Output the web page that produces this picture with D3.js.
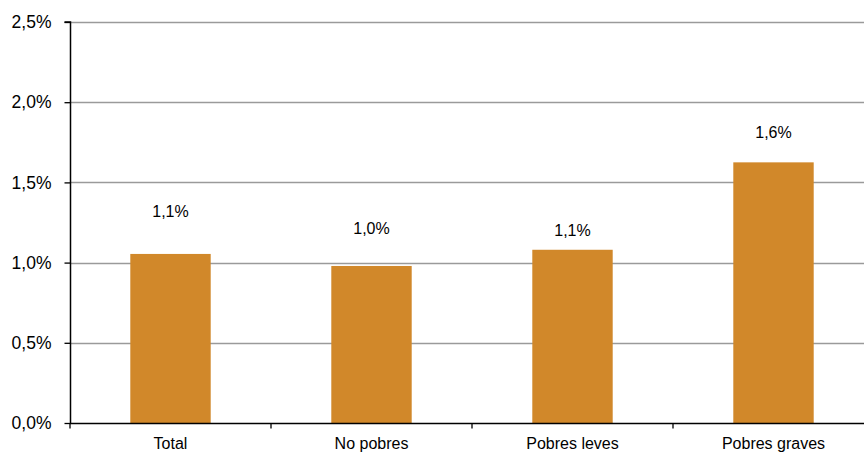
<!DOCTYPE html>
<html>
<head>
<meta charset="utf-8">
<script src="https://cdn.jsdelivr.net/npm/d3@7"></script>
<style>
  html, body { margin: 0; padding: 0; background: #fff; }
  svg { display: block; font-family: "Liberation Sans", Arial, sans-serif; }
</style>
</head>
<body>
<svg id="chart" width="864" height="453"></svg>
<script>
// Categories and values (share, in %)
const categories = ["Total", "No pobres", "Pobres leves", "Pobres graves"];
const values = [1.054, 0.979, 1.08, 1.625];
const yTicks = [0, 0.5, 1.0, 1.5, 2.0, 2.5];

const svg = d3.select("#chart");
const W = 864, H = 453;
const plotLeft = 70, plotTop = 22, plotBottom = 423;
const plotRight = 874; // last band runs past the visible area

const x = d3.scaleBand().domain(categories).range([plotLeft, plotRight])
  .paddingInner(0.6).paddingOuter(0.3);
const y = d3.scaleLinear().domain([0, 2.5]).range([plotBottom, plotTop]);

const pct = v => d3.format(".1f")(v).replace(".", ",") + "%";

// Horizontal gridlines
svg.append("g").selectAll("line").data(yTicks.filter(d => d > 0)).join("line")
  .attr("x1", plotLeft).attr("x2", W)
  .attr("y1", d => Math.round(y(d)) + 0.5).attr("y2", d => Math.round(y(d)) + 0.5)
  .attr("stroke", "#9a9a9a").attr("stroke-width", 1.3);

// Bars
svg.append("g").selectAll("rect").data(values).join("rect")
  .attr("x", (d, i) => x(categories[i]))
  .attr("width", x.bandwidth())
  .attr("y", d => y(d))
  .attr("height", d => y(0) - y(d))
  .attr("fill", "#D1882A");

// Value labels above the bars
const labelLift = [43, 38, 19, 30];
svg.append("g").selectAll("text").data(values).join("text")
  .attr("x", (d, i) => x(categories[i]) + x.bandwidth() / 2)
  .attr("y", (d, i) => y(d) - labelLift[i])
  .attr("dy", "0.35em")
  .attr("text-anchor", "middle")
  .attr("font-size", 16)
  .attr("fill", "#000")
  .text(d => pct(d));

// Y axis
const yAxis = d3.axisLeft(y).tickValues(yTicks).tickSize(6).tickPadding(13)
  .tickFormat(d => pct(d));
const gy = svg.append("g").attr("transform", `translate(${plotLeft + 0.5},0)`).call(yAxis);
gy.select(".domain").attr("stroke", "#000").attr("stroke-width", 1.5)
  .attr("d", `M-6,${plotTop}H0V${plotBottom}`);
gy.selectAll(".tick line").attr("stroke", "#000").attr("stroke-width", 1.3);
gy.selectAll(".tick text").attr("font-size", 17.5).attr("fill", "#000")
  .attr("font-family", "Liberation Sans, Arial, sans-serif");

// X axis baseline with separators between categories
const gx = svg.append("g").attr("transform", `translate(0,${plotBottom + 0.5})`);
gx.append("line").attr("x1", plotLeft).attr("x2", W).attr("stroke", "#000").attr("stroke-width", 1.5);
const step = x.step();
const bounds = categories.map(c => x(c) - x.paddingInner() * step / 2);
gx.selectAll("line.sep").data(bounds).join("line").attr("class", "sep")
  .attr("x1", d => d).attr("x2", d => d).attr("y1", 0).attr("y2", 5)
  .attr("stroke", "#000").attr("stroke-width", 1.3);
gx.selectAll("text").data(categories).join("text")
  .attr("x", d => x(d) + x.bandwidth() / 2)
  .attr("y", 25)
  .attr("text-anchor", "middle")
  .attr("font-size", 16)
  .attr("fill", "#000")
  .text(d => d);
</script>
</body>
</html>
